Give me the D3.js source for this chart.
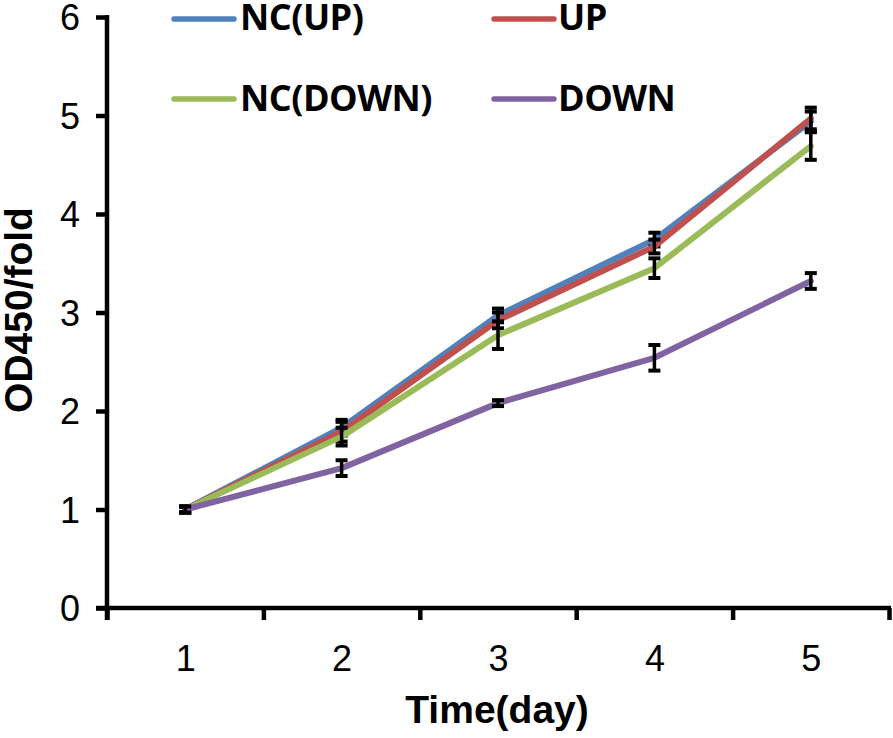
<!DOCTYPE html>
<html>
<head>
<meta charset="utf-8">
<script src="https://cdn.jsdelivr.net/npm/d3@7"></script>
<style>
  html, body { margin: 0; padding: 0; background: #fff; }
  svg { display: block; }
</style>
</head>
<body>
<svg id="chart" width="893" height="738"></svg>
<script>
// ---- data ----
const days = [1, 2, 3, 4, 5];
const seriesNames = ["NC(UP)", "UP", "NC(DOWN)", "DOWN"];
const seriesColors = ["#4F81BD", "#C0504D", "#9BBB59", "#8064A2"];
const ncUp     = [1.00, 1.83, 2.97, 3.74, 4.94];
const up       = [1.00, 1.79, 2.92, 3.67, 4.97];
const ncDown   = [1.00, 1.74, 2.77, 3.45, 4.69];
const down     = [1.00, 1.42, 2.08, 2.54, 3.32];
const ncUpErr  = [0.03, 0.08, 0.07, 0.07, 0.10];
const upErr    = [0.03, 0.10, 0.08, 0.07, 0.11];
const ncDownErr= [0.03, 0.09, 0.14, 0.10, 0.14];
const downErr  = [0.03, 0.08, 0.03, 0.13, 0.08];
const yTicks = [0, 1, 2, 3, 4, 5, 6];
const xTitle = "Time(day)";
const yTitle = "OD450/fold";

const seriesValues = [ncUp, up, ncDown, down];
const seriesErrors = [ncUpErr, upErr, ncDownErr, downErr];

// ---- scales ----
const svg = d3.select("#chart");
const x = d3.scaleLinear().domain([0.5, 5.5]).range([107, 889]);
const y = d3.scaleLinear().domain([0, 6]).range([608, 17]);

const axisFont = "'Liberation Sans', Arial, sans-serif";

// y axis
const yAxis = svg.append("g")
  .attr("transform", `translate(${x(0.5)},0)`)
  .call(d3.axisLeft(y).tickValues(yTicks).tickSize(11).tickPadding(16).tickFormat(d3.format("d")));
yAxis.select(".domain").remove();
yAxis.selectAll(".tick line").attr("stroke", "#000").attr("stroke-width", 4.5);
yAxis.selectAll(".tick text").attr("font-family", axisFont).attr("font-size", 36).attr("fill", "#000").attr("dy", "0.36em");
svg.append("line")
  .attr("x1", x(0.5)).attr("x2", x(0.5))
  .attr("y1", y(6) - 2).attr("y2", y(0) + 12)
  .attr("stroke", "#000").attr("stroke-width", 4.5);

// x axis: boundary ticks
const bounds = days.map(d => d - 0.5).concat([5.5]);
const xAxisTicks = svg.append("g")
  .attr("transform", `translate(0,${y(0)})`)
  .call(d3.axisBottom(x).tickValues(bounds).tickSize(12).tickFormat(""));
xAxisTicks.select(".domain").remove();
xAxisTicks.selectAll(".tick line").attr("stroke", "#000").attr("stroke-width", 4.5);
svg.append("line")
  .attr("x1", x(0.5) - 11).attr("x2", x(5.5) + 2)
  .attr("y1", y(0)).attr("y2", y(0))
  .attr("stroke", "#000").attr("stroke-width", 4.5);

// x labels
const xLabels = svg.append("g")
  .attr("transform", `translate(0,${y(0)})`)
  .call(d3.axisBottom(x).tickValues(days).tickSize(0).tickPadding(37).tickFormat(d3.format("d")));
xLabels.select(".domain").remove();
xLabels.selectAll(".tick text").attr("font-family", axisFont).attr("font-size", 36).attr("fill", "#000");

// titles
svg.append("text")
  .attr("x", 497).attr("y", 723)
  .attr("text-anchor", "middle")
  .attr("font-family", axisFont).attr("font-weight", "bold").attr("font-size", 39)
  .text(xTitle);
svg.append("text")
  .attr("transform", "translate(32,310) rotate(-90)")
  .attr("text-anchor", "middle")
  .attr("font-family", axisFont).attr("font-weight", "bold").attr("font-size", 39)
  .text(yTitle);

// ---- series ----
const line = d3.line().x((d, i) => x(days[i])).y(d => y(d));
seriesValues.forEach((vals, si) => {
  const g = svg.append("g");
  g.append("path")
    .datum(vals)
    .attr("d", line)
    .attr("fill", "none")
    .attr("stroke", seriesColors[si])
    .attr("stroke-width", 6)
    .attr("stroke-linejoin", "round")
    .attr("stroke-linecap", "round");
  const errs = seriesErrors[si];
  const eb = g.selectAll("g.eb").data(vals).enter().append("g");
  eb.append("line")
    .attr("x1", (d, i) => x(days[i])).attr("x2", (d, i) => x(days[i]))
    .attr("y1", (d, i) => y(d + errs[i])).attr("y2", (d, i) => y(d - errs[i]))
    .attr("stroke", "#000").attr("stroke-width", 3.5);
  [1, -1].forEach(sgn => {
    eb.append("line")
      .attr("x1", (d, i) => x(days[i]) - 6).attr("x2", (d, i) => x(days[i]) + 6)
      .attr("y1", (d, i) => y(d + sgn * errs[i])).attr("y2", (d, i) => y(d + sgn * errs[i]))
      .attr("stroke", "#000").attr("stroke-width", 4);
  });
});

// ---- legend ----
const legendFont = "'Open Sans', 'Noto Sans', sans-serif";
const legendPos = [
  { lx: 174, ly: 19, tx: 240, ty: 30 },
  { lx: 494, ly: 19, tx: 558, ty: 30 },
  { lx: 174, ly: 99, tx: 240, ty: 111 },
  { lx: 494, ly: 99, tx: 558, ty: 111 }
];
seriesNames.forEach((name, i) => {
  const p = legendPos[i];
  svg.append("line")
    .attr("x1", p.lx).attr("x2", p.lx + 60)
    .attr("y1", p.ly).attr("y2", p.ly)
    .attr("stroke", seriesColors[i]).attr("stroke-width", 5.5)
    .attr("stroke-linecap", "round");
  svg.append("text")
    .attr("x", p.tx).attr("y", p.ty)
    .attr("font-family", legendFont).attr("font-weight", "bold").attr("font-size", 36)
    .attr("letter-spacing", -0.5)
    .attr("fill", "#000")
    .text(name);
});
</script>
</body>
</html>
